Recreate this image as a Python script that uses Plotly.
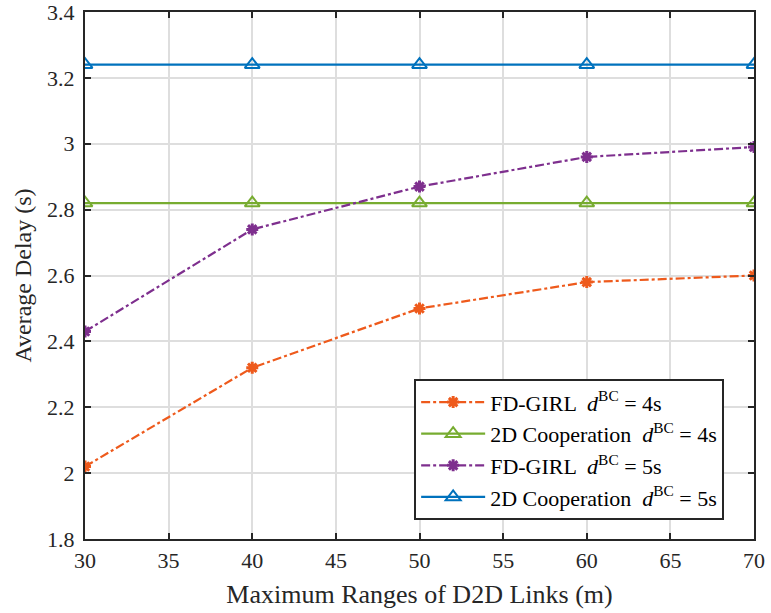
import plotly.graph_objects as go

x_vals = [30, 40, 50, 60, 70]
fd_girl_4 = [2.02, 2.32, 2.50, 2.58, 2.60]
coop_4 = [2.82, 2.82, 2.82, 2.82, 2.82]
fd_girl_5 = [2.43, 2.74, 2.87, 2.96, 2.99]
coop_5 = [3.24, 3.24, 3.24, 3.24, 3.24]

names = [
    "FD-GIRL  <i>d</i><sup>BC</sup> = 4s",
    "2D Cooperation  <i>d</i><sup>BC</sup> = 4s",
    "FD-GIRL  <i>d</i><sup>BC</sup> = 5s",
    "2D Cooperation  <i>d</i><sup>BC</sup> = 5s",
]

SERIF = "Times New Roman"

fig = go.Figure()
fig.add_trace(go.Scatter(x=x_vals, y=fd_girl_4, name=names[0], mode="lines+markers",
                         line=dict(color="#EE5A1C", width=2.2, dash="dashdot"),
                         marker=dict(symbol="asterisk-open", size=10, line=dict(color="#EE5A1C", width=3))))
fig.add_trace(go.Scatter(x=x_vals, y=coop_4, name=names[1], mode="lines+markers",
                         line=dict(color="#77AC30", width=2.2),
                         marker=dict(symbol="triangle-up-open", size=13, line=dict(color="#77AC30", width=2))))
fig.add_trace(go.Scatter(x=x_vals, y=fd_girl_5, name=names[2], mode="lines+markers",
                         line=dict(color="#7E2F8E", width=2.2, dash="dashdot"),
                         marker=dict(symbol="asterisk-open", size=10, line=dict(color="#7E2F8E", width=3))))
fig.add_trace(go.Scatter(x=x_vals, y=coop_5, name=names[3], mode="lines+markers",
                         line=dict(color="#0072BD", width=2.2),
                         marker=dict(symbol="triangle-up-open", size=13, line=dict(color="#0072BD", width=2))))

axis_common = dict(showgrid=True, gridcolor="#DEDEDE", gridwidth=1.5,
                   showline=True, linecolor="#262626", linewidth=2, mirror="ticks",
                   ticks="inside", ticklen=6, tickwidth=2, tickcolor="#262626",
                   zeroline=False, automargin=False, ticklabeloverflow="allow")

fig.update_xaxes(range=[30, 70], dtick=5, title_text="Maximum Ranges of D2D Links (m)",
                 tickfont=dict(family=SERIF, size=22, color="#262626"),
                 title_font=dict(family=SERIF, size=26, color="#262626"),
                 title_standoff=12, ticklabelstandoff=1, **axis_common)
fig.update_yaxes(range=[1.8, 3.4], dtick=0.2, title_text="Average Delay (s)",
                 tickfont=dict(family=SERIF, size=22, color="#262626"),
                 title_font=dict(family=SERIF, size=24, color="#262626"),
                 title_standoff=9, ticklabelstandoff=4, **axis_common)

fig.update_layout(
    width=771, height=613,
    margin=dict(l=85, r=17, t=12, b=74),
    plot_bgcolor="white", paper_bgcolor="white",
    font=dict(family=SERIF, color="#000000"),
    legend=dict(x=0.492, y=0.303, xanchor="left", yanchor="top",
                bgcolor="white", bordercolor="#262626", borderwidth=2,
                font=dict(family=SERIF, size=22, color="#000000"),
                tracegroupgap=0, itemwidth=64),
    showlegend=True,
)

fig.write_html("out.html")
